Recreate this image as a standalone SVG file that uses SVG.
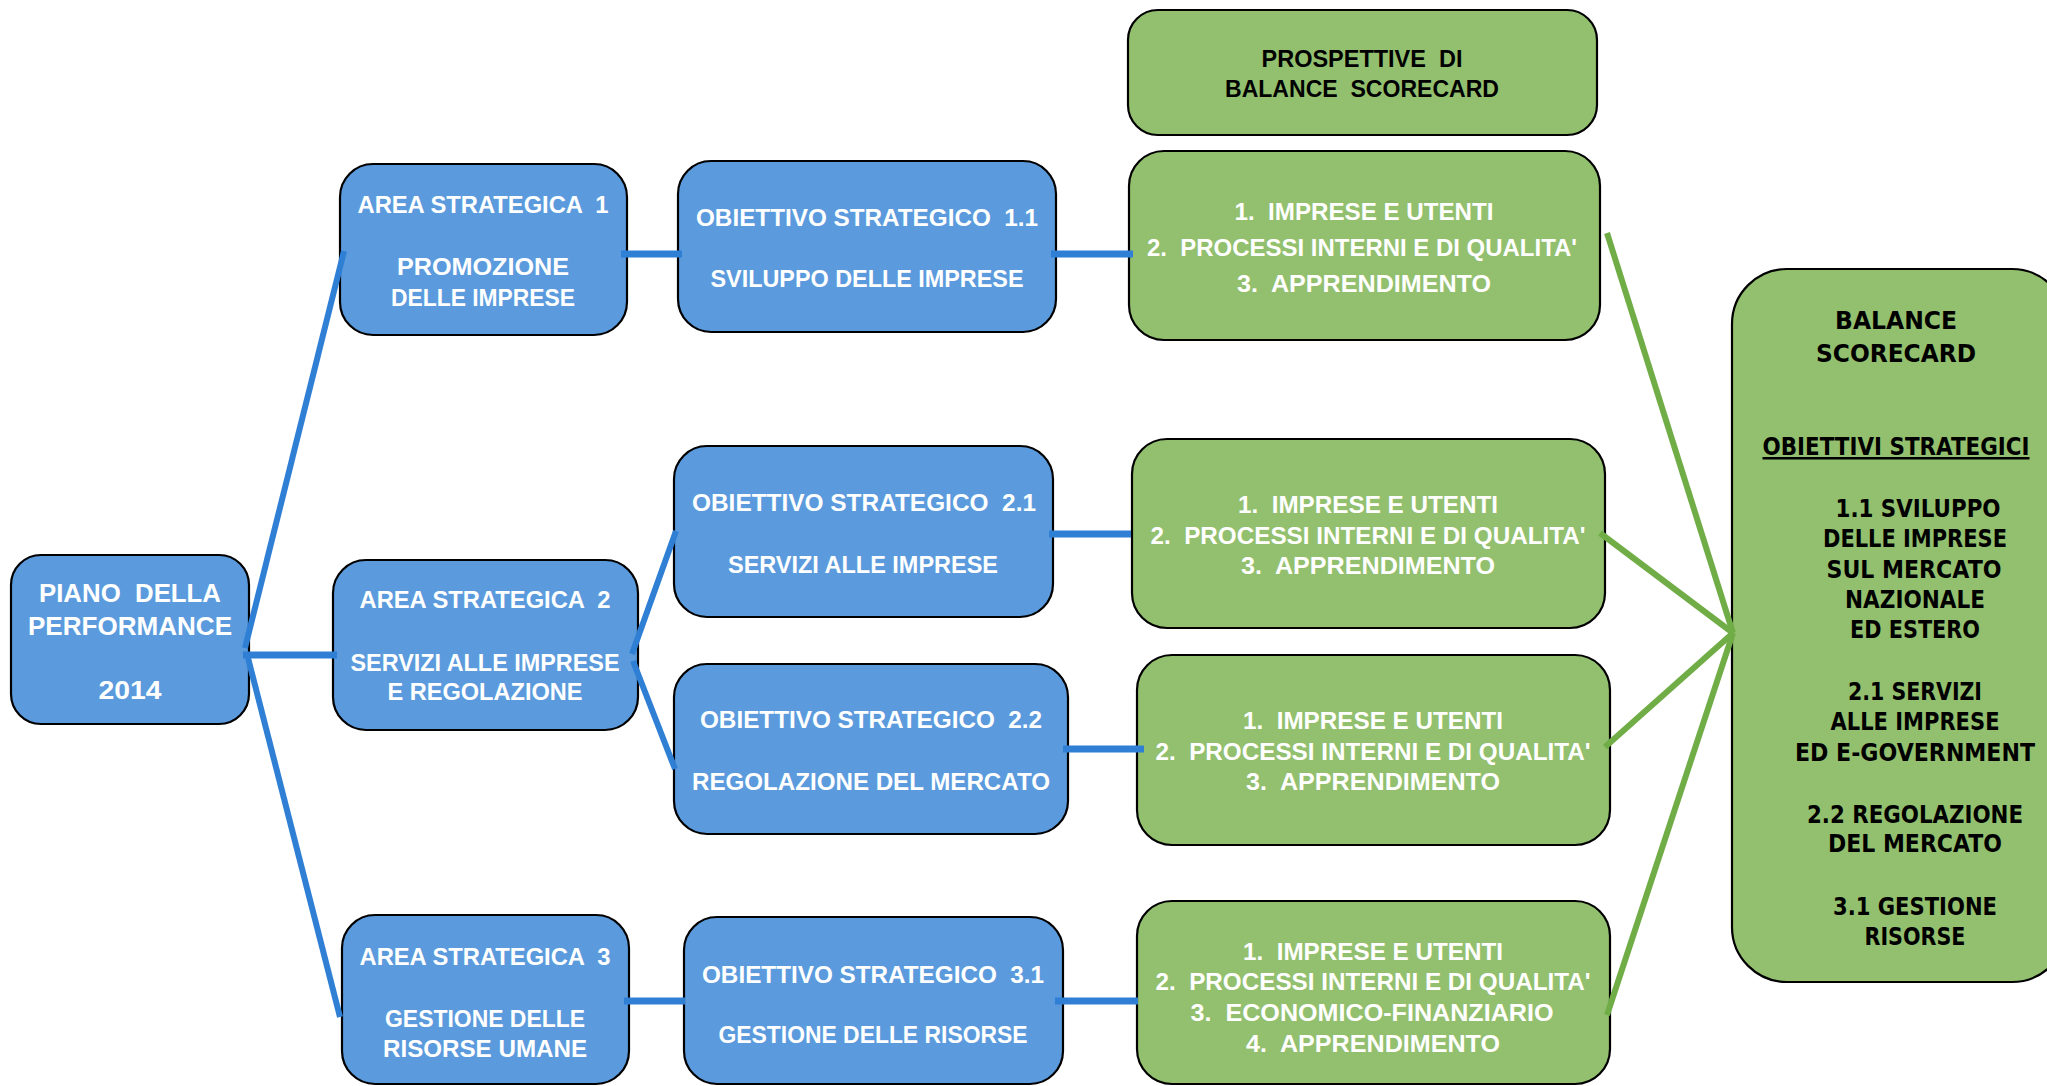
<svg xmlns="http://www.w3.org/2000/svg" width="2047" height="1086" viewBox="0 0 2047 1086">
<style>
text { white-space: pre; text-anchor: middle; font-weight: bold; }
.box { stroke: #000; stroke-width: 2.2; }
.blue { fill: #5B9BDD; }
.green { fill: #93C06E; }
.wt { fill: #fff; font-family: "Liberation Sans", Arial, sans-serif; font-size: 24px; }
.bt { fill: #000; font-family: "Liberation Sans", Arial, sans-serif; font-size: 24px; }
.vt { fill: #000; font-family: "DejaVu Sans", Verdana, sans-serif; font-size: 25px; }
.cb { stroke: #2F7FD5; fill: none; }
.cg { stroke: #70AD47; fill: none; stroke-width: 6; }
</style>
<rect width="2047" height="1086" fill="#fff"/>
<g id="piano">
<rect class="box blue" x="11" y="555" width="238" height="169" rx="30"/>
<text class="wt" style="font-size:26px" x="130" y="602" textLength="182" lengthAdjust="spacingAndGlyphs">PIANO  DELLA</text>
<text class="wt" style="font-size:26px" x="130" y="635" textLength="204" lengthAdjust="spacingAndGlyphs">PERFORMANCE</text>
<text class="wt" style="font-size:26px" x="130" y="699" textLength="63" lengthAdjust="spacingAndGlyphs">2014</text>
</g>
<g id="area1">
<rect class="box blue" x="340" y="164" width="287" height="171" rx="33"/>
<text class="wt" x="483" y="213" textLength="251" lengthAdjust="spacingAndGlyphs">AREA STRATEGICA  1</text>
<text class="wt" x="483" y="275" textLength="172" lengthAdjust="spacingAndGlyphs">PROMOZIONE</text>
<text class="wt" x="483" y="306" textLength="184" lengthAdjust="spacingAndGlyphs">DELLE IMPRESE</text>
</g>
<g id="area2">
<rect class="box blue" x="333" y="560" width="305" height="170" rx="33"/>
<text class="wt" x="485" y="608" textLength="251" lengthAdjust="spacingAndGlyphs">AREA STRATEGICA  2</text>
<text class="wt" x="485" y="671" textLength="269" lengthAdjust="spacingAndGlyphs">SERVIZI ALLE IMPRESE</text>
<text class="wt" x="485" y="700" textLength="195" lengthAdjust="spacingAndGlyphs">E REGOLAZIONE</text>
</g>
<g id="area3">
<rect class="box blue" x="342" y="915" width="287" height="169" rx="33"/>
<text class="wt" x="485" y="965" textLength="251" lengthAdjust="spacingAndGlyphs">AREA STRATEGICA  3</text>
<text class="wt" x="485" y="1027" textLength="200" lengthAdjust="spacingAndGlyphs">GESTIONE DELLE</text>
<text class="wt" x="485" y="1057" textLength="204" lengthAdjust="spacingAndGlyphs">RISORSE UMANE</text>
</g>
<g id="obj11">
<rect class="box blue" x="678" y="161" width="378" height="171" rx="33"/>
<text class="wt" x="867" y="226" textLength="342" lengthAdjust="spacingAndGlyphs">OBIETTIVO STRATEGICO  1.1</text>
<text class="wt" x="867" y="287" textLength="313" lengthAdjust="spacingAndGlyphs">SVILUPPO DELLE IMPRESE</text>
</g>
<g id="obj21">
<rect class="box blue" x="674" y="446" width="379" height="171" rx="33"/>
<text class="wt" x="864" y="511" textLength="344" lengthAdjust="spacingAndGlyphs">OBIETTIVO STRATEGICO  2.1</text>
<text class="wt" x="863" y="573" textLength="270" lengthAdjust="spacingAndGlyphs">SERVIZI ALLE IMPRESE</text>
</g>
<g id="obj22">
<rect class="box blue" x="674" y="664" width="394" height="170" rx="33"/>
<text class="wt" x="871" y="728" textLength="342" lengthAdjust="spacingAndGlyphs">OBIETTIVO STRATEGICO  2.2</text>
<text class="wt" x="871" y="790" textLength="358" lengthAdjust="spacingAndGlyphs">REGOLAZIONE DEL MERCATO</text>
</g>
<g id="obj31">
<rect class="box blue" x="684" y="917" width="379" height="167" rx="33"/>
<text class="wt" x="873" y="983" textLength="342" lengthAdjust="spacingAndGlyphs">OBIETTIVO STRATEGICO  3.1</text>
<text class="wt" x="873" y="1043" textLength="309" lengthAdjust="spacingAndGlyphs">GESTIONE DELLE RISORSE</text>
</g>
<g id="prospettive">
<rect class="box green" x="1128" y="10" width="469" height="125" rx="30"/>
<text class="bt" x="1362" y="67" textLength="201" lengthAdjust="spacingAndGlyphs">PROSPETTIVE  DI</text>
<text class="bt" x="1362" y="97" textLength="274" lengthAdjust="spacingAndGlyphs">BALANCE  SCORECARD</text>
</g>
<g id="bsc1">
<rect class="box green" x="1129" y="151" width="471" height="189" rx="35"/>
<text class="wt" x="1364" y="220" textLength="259" lengthAdjust="spacingAndGlyphs">1.  IMPRESE E UTENTI</text>
<text class="wt" x="1362" y="256" textLength="430" lengthAdjust="spacingAndGlyphs">2.  PROCESSI INTERNI E DI QUALITA'</text>
<text class="wt" x="1364" y="292" textLength="254" lengthAdjust="spacingAndGlyphs">3.  APPRENDIMENTO</text>
</g>
<g id="bsc2">
<rect class="box green" x="1132" y="439" width="473" height="189" rx="35"/>
<text class="wt" x="1368" y="513" textLength="260" lengthAdjust="spacingAndGlyphs">1.  IMPRESE E UTENTI</text>
<text class="wt" x="1368" y="544" textLength="435" lengthAdjust="spacingAndGlyphs">2.  PROCESSI INTERNI E DI QUALITA'</text>
<text class="wt" x="1368" y="574" textLength="254" lengthAdjust="spacingAndGlyphs">3.  APPRENDIMENTO</text>
</g>
<g id="bsc3">
<rect class="box green" x="1137" y="655" width="473" height="190" rx="35"/>
<text class="wt" x="1373" y="729" textLength="260" lengthAdjust="spacingAndGlyphs">1.  IMPRESE E UTENTI</text>
<text class="wt" x="1373" y="760" textLength="435" lengthAdjust="spacingAndGlyphs">2.  PROCESSI INTERNI E DI QUALITA'</text>
<text class="wt" x="1373" y="790" textLength="254" lengthAdjust="spacingAndGlyphs">3.  APPRENDIMENTO</text>
</g>
<g id="bsc4">
<rect class="box green" x="1137" y="901" width="473" height="183" rx="35"/>
<text class="wt" x="1373" y="960" textLength="260" lengthAdjust="spacingAndGlyphs">1.  IMPRESE E UTENTI</text>
<text class="wt" x="1373" y="990" textLength="435" lengthAdjust="spacingAndGlyphs">2.  PROCESSI INTERNI E DI QUALITA'</text>
<text class="wt" x="1372" y="1021" textLength="363" lengthAdjust="spacingAndGlyphs">3.  ECONOMICO-FINANZIARIO</text>
<text class="wt" x="1373" y="1052" textLength="254" lengthAdjust="spacingAndGlyphs">4.  APPRENDIMENTO</text>
</g>
<g id="balance">
<rect class="box green" x="1732" y="269" width="335" height="713" rx="55"/>
<text class="vt" x="1896" y="329" textLength="122" lengthAdjust="spacingAndGlyphs">BALANCE</text>
<text class="vt" x="1896" y="362" textLength="160" lengthAdjust="spacingAndGlyphs">SCORECARD</text>
<text class="vt" x="1896" y="455" textLength="267" lengthAdjust="spacingAndGlyphs" text-decoration="underline">OBIETTIVI STRATEGICI</text>
<text class="vt" x="1918" y="517" textLength="165" lengthAdjust="spacingAndGlyphs">1.1 SVILUPPO</text>
<text class="vt" x="1915" y="547" textLength="184" lengthAdjust="spacingAndGlyphs">DELLE IMPRESE</text>
<text class="vt" x="1914" y="578" textLength="175" lengthAdjust="spacingAndGlyphs">SUL MERCATO</text>
<text class="vt" x="1915" y="608" textLength="140" lengthAdjust="spacingAndGlyphs">NAZIONALE</text>
<text class="vt" x="1915" y="638" textLength="130" lengthAdjust="spacingAndGlyphs">ED ESTERO</text>
<text class="vt" x="1915" y="700" textLength="134" lengthAdjust="spacingAndGlyphs">2.1 SERVIZI</text>
<text class="vt" x="1915" y="730" textLength="169" lengthAdjust="spacingAndGlyphs">ALLE IMPRESE</text>
<text class="vt" x="1915" y="761" textLength="240" lengthAdjust="spacingAndGlyphs">ED E-GOVERNMENT</text>
<text class="vt" x="1915" y="823" textLength="216" lengthAdjust="spacingAndGlyphs">2.2 REGOLAZIONE</text>
<text class="vt" x="1915" y="852" textLength="174" lengthAdjust="spacingAndGlyphs">DEL MERCATO</text>
<text class="vt" x="1915" y="915" textLength="164" lengthAdjust="spacingAndGlyphs">3.1 GESTIONE</text>
<text class="vt" x="1915" y="945" textLength="101" lengthAdjust="spacingAndGlyphs">RISORSE</text>
</g>
<g id="connectors">
<line class="cb" stroke-width="6" x1="245" y1="648" x2="344" y2="251"/>
<line class="cb" stroke-width="7" x1="243" y1="655" x2="337" y2="655"/>
<line class="cb" stroke-width="6" x1="248" y1="658" x2="340" y2="1017"/>
<line class="cb" stroke-width="7" x1="621" y1="254" x2="682" y2="254"/>
<line class="cb" stroke-width="7" x1="1051" y1="254" x2="1133" y2="254"/>
<line class="cb" stroke-width="6" x1="632" y1="654" x2="676" y2="531"/>
<line class="cb" stroke-width="6" x1="633" y1="661" x2="675" y2="769"/>
<line class="cb" stroke-width="7" x1="1049" y1="534" x2="1131" y2="534"/>
<line class="cb" stroke-width="7" x1="1063" y1="749" x2="1144" y2="749"/>
<line class="cb" stroke-width="7" x1="624" y1="1001" x2="685" y2="1001"/>
<line class="cb" stroke-width="7" x1="1055" y1="1001" x2="1138" y2="1001"/>
<line class="cg" x1="1607" y1="233" x2="1733" y2="633"/>
<line class="cg" x1="1600" y1="533" x2="1733" y2="633"/>
<line class="cg" x1="1605" y1="747" x2="1733" y2="633"/>
<line class="cg" x1="1607" y1="1015" x2="1733" y2="633"/>
</g>
</svg>
